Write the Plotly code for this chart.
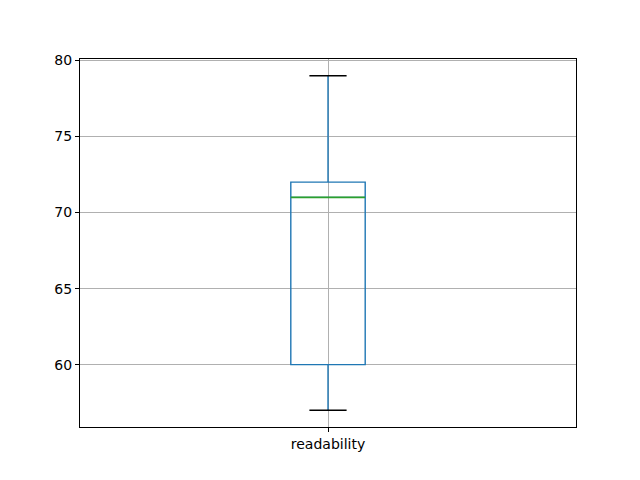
import plotly.graph_objects as go

category = ["readability"]
q1 = [60]
median = [71]
q3 = [72]
lower_whisker = [57]
upper_whisker = [79]
y_ticks = [60, 65, 70, 75, 80]

pos = 1
box_w = 0.15
cap_w = box_w / 2

fig = go.Figure()
fig.add_trace(go.Box(
    x=[pos], q1=q1, median=median, q3=q3,
    lowerfence=lower_whisker, upperfence=upper_whisker,
    width=box_w, whiskerwidth=0,
    line=dict(color="#1f77b4", width=1.4),
    fillcolor="rgba(0,0,0,0)", boxpoints=False, showlegend=False,
    hoverinfo="skip",
))
# median line
fig.add_trace(go.Scatter(
    x=[pos - box_w / 2, pos + box_w / 2], y=[median[0], median[0]],
    mode="lines", line=dict(color="#2ca02c", width=1.6), showlegend=False, hoverinfo="skip"))
# caps
for v in (lower_whisker[0], upper_whisker[0]):
    fig.add_trace(go.Scatter(
        x=[pos - cap_w / 2, pos + cap_w / 2], y=[v, v],
        mode="lines", line=dict(color="black", width=1.4), showlegend=False, hoverinfo="skip"))

span = upper_whisker[0] - lower_whisker[0]
fig.update_layout(
    width=640, height=480,
    margin=dict(l=72, r=72, t=51, b=61),
    paper_bgcolor="white", plot_bgcolor="white",
    font=dict(family="DejaVu Sans", size=14, color="black"),
    xaxis=dict(
        range=[0.5, 1.5], tickmode="array", tickvals=[pos], ticktext=category,
        showgrid=True, gridcolor="#b0b0b0", gridwidth=1,
        showline=True, linecolor="black", linewidth=1, mirror=True,
        ticks="outside", ticklen=4, tickcolor="black", zeroline=False,
    ),
    yaxis=dict(
        range=[lower_whisker[0] - 0.05 * span, upper_whisker[0] + 0.05 * span],
        tickmode="array", tickvals=y_ticks,
        showgrid=True, gridcolor="#b0b0b0", gridwidth=1,
        showline=True, linecolor="black", linewidth=1, mirror=True,
        ticks="outside", ticklen=4, tickcolor="black", zeroline=False,
    ),
)
fig.write_html("out.html")
